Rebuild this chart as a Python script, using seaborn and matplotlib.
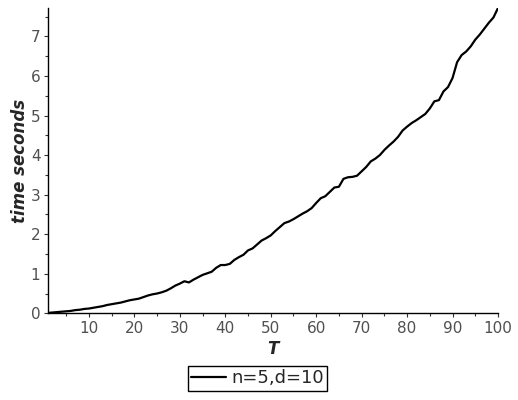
import numpy as np
import pandas as pd
import matplotlib
matplotlib.use('Agg')
import matplotlib.pyplot as plt
import seaborn as sns
from matplotlib.ticker import MultipleLocator

t_values = list(range(1, 101))
time_seconds = [
    0.01, 0.02, 0.03, 0.04, 0.05, 0.06, 0.08, 0.09, 0.11, 0.12,
    0.14, 0.16, 0.18, 0.21, 0.23, 0.25, 0.27, 0.30, 0.33, 0.35,
    0.37, 0.41, 0.45, 0.48, 0.50, 0.53, 0.57, 0.63, 0.70, 0.75,
    0.81, 0.78, 0.85, 0.91, 0.97, 1.01, 1.05, 1.15, 1.22, 1.22,
    1.25, 1.35, 1.42, 1.48, 1.59, 1.64, 1.74, 1.84, 1.90, 1.97,
    2.08, 2.18, 2.28, 2.32, 2.38, 2.45, 2.52, 2.58, 2.66, 2.79,
    2.91, 2.96, 3.07, 3.18, 3.20, 3.40, 3.44, 3.45, 3.48, 3.59,
    3.70, 3.84, 3.91, 4.00, 4.13, 4.24, 4.34, 4.46, 4.62, 4.72,
    4.81, 4.88, 4.96, 5.04, 5.18, 5.36, 5.39, 5.61, 5.72, 5.95,
    6.35, 6.53, 6.62, 6.75, 6.92, 7.05, 7.20, 7.35, 7.48, 7.72,
]
series_label = 'n=5,d=10'

df = pd.DataFrame({'T': t_values, 'time': time_seconds})

sns.set_style('ticks')
plt.rcParams['font.family'] = ['DejaVu Sans']

fig = plt.figure(figsize=(5.18, 4.0), dpi=100)
ax = fig.add_axes([0.0927, 0.2168, 0.8687, 0.7632])

sns.lineplot(data=df, x='T', y='time', color='black', linewidth=1.6,
             label=series_label, ax=ax)

ax.set_xlim(1, 100)
ax.set_ylim(0, max(time_seconds))
ax.xaxis.set_major_locator(MultipleLocator(10))
ax.xaxis.set_minor_locator(MultipleLocator(5))
ax.yaxis.set_major_locator(MultipleLocator(1))
ax.yaxis.set_minor_locator(MultipleLocator(0.5))

sns.despine(ax=ax)
for s in ['left', 'bottom']:
    ax.spines[s].set_linewidth(1.0)
    ax.spines[s].set_color('black')

ax.tick_params(which='major', length=3, width=0.8, color='#333333',
               labelsize=11, labelcolor='#505050', pad=2.5)
ax.tick_params(which='minor', length=2, width=0.8, color='#333333')

ax.set_xlabel('T', fontsize=12, fontstyle='italic', fontweight='bold',
              labelpad=3)
ax.set_ylabel('time seconds', fontsize=12, fontstyle='italic',
              fontweight='bold', labelpad=1)

leg = ax.legend(loc='center', bbox_to_anchor=(0.497, 0.054),
                bbox_transform=fig.transFigure, fontsize=13,
                frameon=True, fancybox=False, handlelength=1.9,
                handletextpad=0.3, borderpad=0.2, borderaxespad=0)
leg.get_frame().set_edgecolor('black')
leg.get_frame().set_linewidth(1.0)
leg.get_frame().set_alpha(1)

fig.savefig('out.png', dpi=100)
